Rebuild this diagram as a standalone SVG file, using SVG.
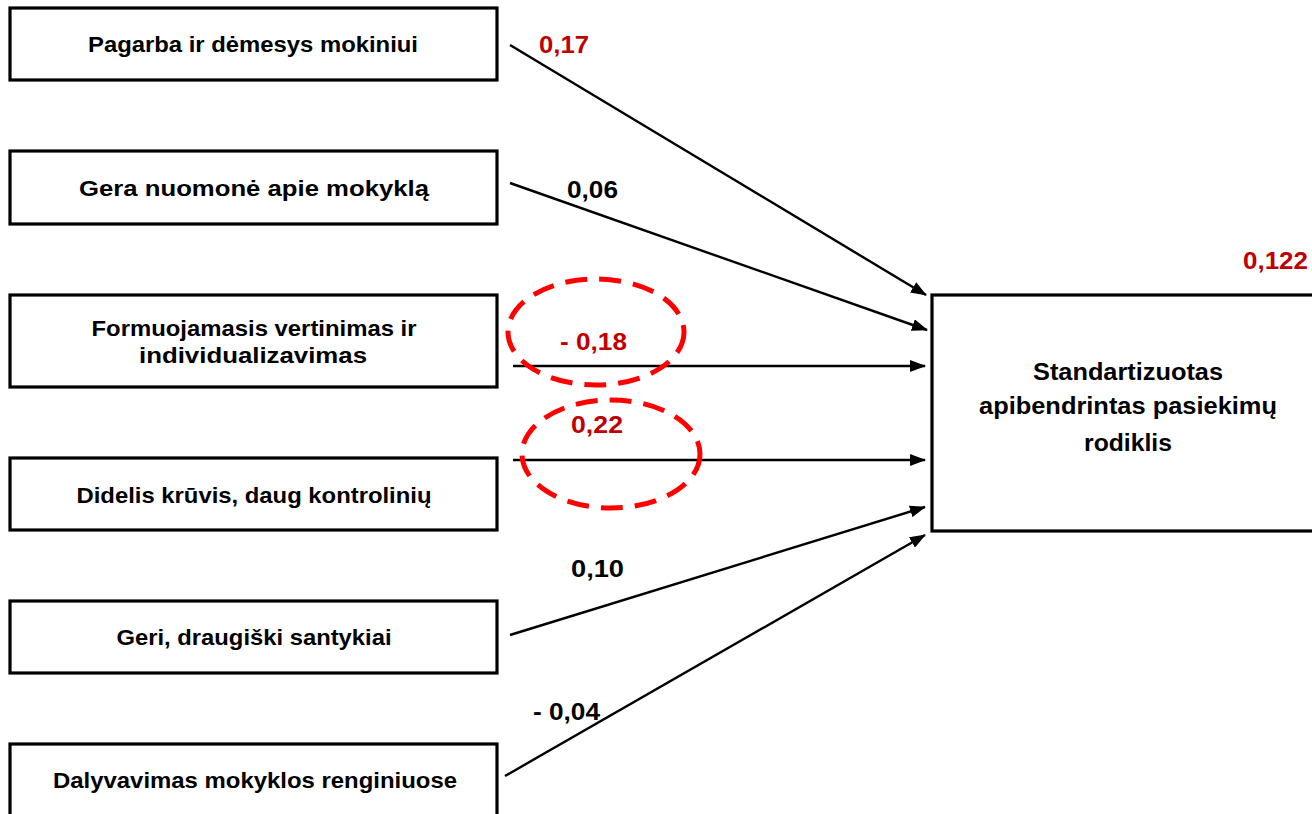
<svg xmlns="http://www.w3.org/2000/svg" width="1312" height="814" viewBox="0 0 1312 814">
<defs>
<marker id="ah" markerWidth="16" markerHeight="12" refX="15" refY="6" orient="auto" markerUnits="userSpaceOnUse">
<path d="M0,0 L16,6 L0,12 Z" fill="#000"/>
</marker>
<style>
.box{fill:#fff;stroke:#000;stroke-width:3.2}
.lt{font-family:"Liberation Sans Narrow","Liberation Sans",Arial,sans-serif;font-weight:bold;font-size:22px;fill:#000;text-anchor:middle}
.rt{font-family:"Liberation Sans",Arial,sans-serif;font-weight:bold;font-size:23px;fill:#000;text-anchor:middle}
.num{font-family:"Liberation Sans",Arial,sans-serif;font-weight:bold;font-size:23px}
.red{fill:#C00000}
.blk{fill:#000}
.conn{stroke:#000;stroke-width:2.4;fill:none;marker-end:url(#ah)}
.ell{fill:none;stroke:#FF0000;stroke-width:5;stroke-dasharray:22 12}
</style>
</defs>
<rect width="1312" height="814" fill="#fff"/>
<g id="n1"><rect class="box" x="10" y="8" width="487" height="72"/><text class="lt" x="253" y="52" textLength="330" lengthAdjust="spacingAndGlyphs">Pagarba ir dėmesys mokiniui</text></g>
<g id="n2"><rect class="box" x="10" y="151" width="487" height="73"/><text class="lt" x="254" y="196" textLength="350" lengthAdjust="spacingAndGlyphs">Gera nuomonė apie mokyklą</text></g>
<g id="n3"><rect class="box" x="10" y="295" width="487" height="92"/><text class="lt" x="254" y="336" textLength="325" lengthAdjust="spacingAndGlyphs">Formuojamasis vertinimas ir</text><text class="lt" x="253" y="363" textLength="228" lengthAdjust="spacingAndGlyphs">individualizavimas</text></g>
<g id="n4"><rect class="box" x="10" y="458" width="487" height="72"/><text class="lt" x="254" y="503" textLength="355" lengthAdjust="spacingAndGlyphs">Didelis krūvis, daug kontrolinių</text></g>
<g id="n5"><rect class="box" x="10" y="601" width="487" height="72"/><text class="lt" x="254" y="645" textLength="275" lengthAdjust="spacingAndGlyphs">Geri, draugiški santykiai</text></g>
<g id="n6"><rect class="box" x="10" y="744" width="487" height="80"/><text class="lt" x="255" y="788" textLength="404" lengthAdjust="spacingAndGlyphs">Dalyvavimas mokyklos renginiuose</text></g>
<g id="target"><rect class="box" x="932" y="295" width="390" height="236"/>
<text class="rt" x="1128" y="380" textLength="190" lengthAdjust="spacingAndGlyphs">Standartizuotas</text>
<text class="rt" x="1128" y="414" textLength="298" lengthAdjust="spacingAndGlyphs">apibendrintas pasiekimų</text>
<text class="rt" x="1128" y="451" textLength="88" lengthAdjust="spacingAndGlyphs">rodiklis</text>
<text class="num red" x="1243" y="269" textLength="65" lengthAdjust="spacingAndGlyphs">0,122</text></g>
<g id="connectors">
<line class="conn" x1="510" y1="45" x2="926" y2="295"/>
<line class="conn" x1="510" y1="183" x2="927" y2="330"/>
<line class="conn" x1="513" y1="366" x2="925" y2="366"/>
<line class="conn" x1="513" y1="460" x2="925" y2="460"/>
<line class="conn" x1="510" y1="635" x2="925" y2="507"/>
<line class="conn" x1="505" y1="776" x2="925" y2="535"/>
</g>
<g id="labels">
<text class="num red" x="539" y="53" textLength="50" lengthAdjust="spacingAndGlyphs">0,17</text>
<text class="num blk" x="567" y="198" textLength="51" lengthAdjust="spacingAndGlyphs">0,06</text>
<text class="num red" x="560" y="350" textLength="67" lengthAdjust="spacingAndGlyphs">- 0,18</text>
<text class="num red" x="571" y="433" textLength="52" lengthAdjust="spacingAndGlyphs">0,22</text>
<text class="num blk" x="571" y="577" textLength="53" lengthAdjust="spacingAndGlyphs">0,10</text>
<text class="num blk" x="533" y="720" textLength="67" lengthAdjust="spacingAndGlyphs">- 0,04</text>
</g>
<g id="highlights">
<ellipse class="ell" cx="596" cy="332" rx="88" ry="53"/>
<ellipse class="ell" cx="611" cy="454" rx="89" ry="54"/>
</g>
</svg>
